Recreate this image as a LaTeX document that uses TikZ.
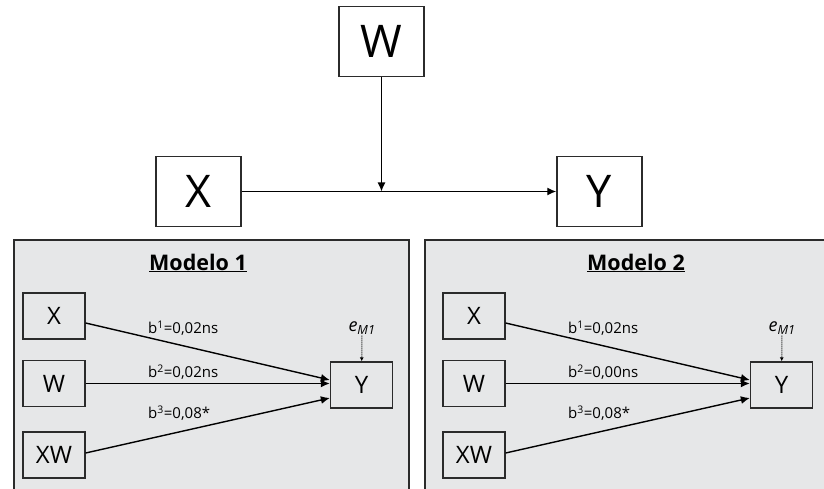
\documentclass[tikz,border=0pt]{standalone}
\usepackage{fontspec}
\setmainfont{Open Sans}
\usetikzlibrary{arrows.meta}
\definecolor{panelgray}{HTML}{E6E7E8}
\definecolor{edgegray}{HTML}{2B2B2B}

\begin{document}
\begin{tikzpicture}[x=1pt,y=-1pt,
	bigbox/.style={draw=edgegray, line width=1.5pt, minimum width=85pt, minimum height=70pt, inner sep=0pt, font=\fontsize{45}{47}\selectfont},
	smallbox/.style={draw=edgegray, line width=1.3pt, fill=panelgray, minimum width=62pt, minimum height=46pt, inner sep=0pt, font=\fontsize{24}{26}\selectfont},
	panel/.style={draw=edgegray, line width=1.4pt, fill=panelgray},
	effect/.style={line width=1.4pt, -{Latex[length=9pt,width=8pt]}},
	coef/.style={anchor=west, inner sep=0pt, font=\fontsize{15}{17}\selectfont},
	title/.style={inner sep=0pt, font=\fontsize{21.5}{23}\selectfont\bfseries}]
%	\draw[help lines] (0,0)grid[step=50](824,489);
	\useasboundingbox (0,0) rectangle (824,489);

	% conceptual model
	\node[bigbox] (wtop) at (381.5,41.5) {W};
	\node[bigbox] (xtop) at (198.5,191.5) {X};
	\node[bigbox] (ytop) at (599.5,191.5) {Y};
	\coordinate (mod) at (wtop.south |- xtop.east);
	\draw[effect] (xtop) -- (ytop);
	\draw[effect] (wtop) -- (mod);

	% statistical models
	\draw[panel] (14,240) rectangle (409,500);
	\draw[panel] (425,240) rectangle (835,500);

	\foreach \dx/\tx/\n/\btwo in {0/198/1/{0,02ns}, 420/636/2/{0,00ns}}{
		\node[title] (title\n) at (\tx,263) {\underline{Modelo \n}};
		\node[smallbox] (x\n) at (54+\dx,316) {X};
		\node[smallbox] (w\n) at (54+\dx,383.5) {W};
		\node[smallbox] (xw\n) at (54+\dx,455) {XW};
		\node[smallbox] (y\n) at (361.5+\dx,385) {Y};
		\node[inner sep=1pt, font=\fontsize{18}{18}\selectfont\itshape] (e\n) at (362+\dx,328) {e\textsubscript{M1}};
		\draw[line width=1pt, densely dotted, -{Latex[length=4pt,width=4pt]}] (e\n) -- (y\n);

		\draw[effect] ([yshift=-7pt]x\n.east) -- ([yshift=5pt]y\n.west);
		\draw[effect] (w\n) -- (w\n.east -| y\n.west);
		\draw[effect] ([yshift=2pt]xw\n.east) -- ([yshift=-13pt]y\n.west);

		\node[coef] (bone\n) at (148+\dx,328) {b\textsuperscript{1}=0,02ns};
		\node[coef] (btwo\n) at (148+\dx,372) {b\textsuperscript{2}=\btwo};
		\node[coef] (bthree\n) at (148+\dx,413) {b\textsuperscript{3}=0,08*};
	}
\end{tikzpicture}
\end{document}
